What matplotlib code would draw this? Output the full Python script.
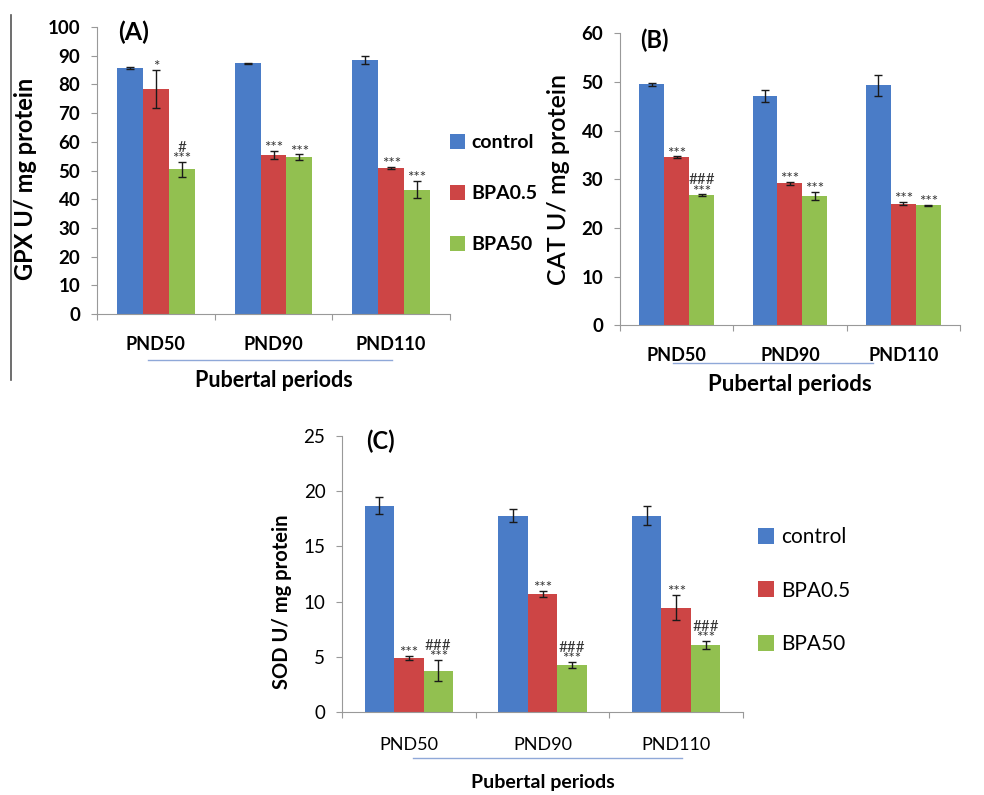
import numpy as np
import matplotlib.pyplot as plt
from matplotlib.lines import Line2D

plt.rcParams['font.family'] = ['Lato', 'DejaVu Sans']

periods = ['PND50', 'PND90', 'PND110']
groups = ['control', 'BPA0.5', 'BPA50']
colors = ['#4a7cc7', '#cd4545', '#92c050']

# GPX (A)
gpx_mean = {'control': [85.6, 87.4, 88.5], 'BPA0.5': [78.5, 55.4, 51.0], 'BPA50': [50.4, 54.6, 43.3]}
gpx_err = {'control': [0.3, 0.2, 1.4], 'BPA0.5': [6.6, 1.5, 0.3], 'BPA50': [2.5, 1.0, 3.0]}
gpx_marks = {'BPA0.5': ['*', '***', '***'], 'BPA50': ['#\n***', '***', '***']}

# CAT (B)
cat_mean = {'control': [49.5, 47.1, 49.3], 'BPA0.5': [34.5, 29.2, 25.0], 'BPA50': [26.7, 26.6, 24.7]}
cat_err = {'control': [0.3, 1.3, 2.2], 'BPA0.5': [0.2, 0.3, 0.3], 'BPA50': [0.2, 0.8, 0.1]}
cat_marks = {'BPA0.5': ['***', '***', '***'], 'BPA50': ['###\n***', '***', '***']}

# SOD (C)
sod_mean = {'control': [18.7, 17.8, 17.8], 'BPA0.5': [4.9, 10.7, 9.45], 'BPA50': [3.75, 4.25, 6.1]}
sod_err = {'control': [0.8, 0.6, 0.85], 'BPA0.5': [0.2, 0.3, 1.15], 'BPA50': [0.95, 0.3, 0.35]}
sod_marks = {'BPA0.5': ['***', '***', '***'], 'BPA50': ['###\n***', '###\n***', '###\n***']}

fig = plt.figure(figsize=(9.84, 7.95), dpi=100)


def panel(rect, means, errs, marks, ymax, ystep, ylabel, tag, tag_y, tag_size, tickweight,
		ylabel_size, ylabel_weight, ylabel_y, xpad):
	ax = fig.add_axes(rect)
	x = np.arange(len(periods)) + 0.5
	w = 0.22
	for i, g in enumerate(groups):
		xs = x + (i - 1) * w
		ax.bar(xs, means[g], w, color=colors[i], label=g, zorder=2)
		ax.errorbar(xs, means[g], yerr=errs[g], fmt='none', ecolor='#1a1a1a',
			elinewidth=1.0, capsize=3, capthick=1.0, zorder=3)
		if g in marks:
			for j, m in enumerate(marks[g]):
				top = means[g][j] + errs[g][j]
				ax.annotate(m, (xs[j], top), xytext=(0, -3), textcoords='offset points',
					ha='center', va='bottom', fontsize=11, color='#333333',
					linespacing=0.75, multialignment='center')
	ax.set_xlim(0, 3)
	ax.set_ylim(0, ymax)
	ax.set_yticks(np.arange(0, ymax + 0.1, ystep))
	ax.set_xticks([0, 1, 2, 3])
	ax.set_xticklabels([])
	ax.set_xticks(x, minor=True)
	ax.set_xticklabels(periods, minor=True, fontsize=13, fontweight=tickweight)
	ax.tick_params(axis='x', which='minor', length=0, pad=xpad)
	ax.tick_params(axis='x', which='major', length=4, color='#999999', direction='out')
	ax.tick_params(axis='y', length=4, color='#999999', labelsize=13.5, pad=8)
	for t in ax.get_yticklabels():
		t.set_fontweight(tickweight)
	for s in ['top', 'right']:
		ax.spines[s].set_visible(False)
	for s in ['left', 'bottom']:
		ax.spines[s].set_color('#999999')
	ax.set_ylabel(ylabel, fontsize=ylabel_size, fontweight=ylabel_weight, labelpad=8)
	ax.yaxis.label.set_y(ylabel_y)
	ax.text(0.18, tag_y, tag, fontsize=tag_size, fontweight='bold', va='center')
	return ax


axA = panel([0.0986, 0.605, 0.3587, 0.361], gpx_mean, gpx_err, gpx_marks, 100, 10,
	'GPX U/ mg protein', '(A)', 98, 18, 'bold', 17, 'bold', 0.47, 16)
axA.text(1.5, -23, 'Pubertal periods', ha='center', va='center', fontsize=15.5, fontweight='bold')
axA.legend(loc='center left', bbox_to_anchor=(0.95, 0.42), frameon=False, handlelength=0.8,
	handleheight=0.8, handletextpad=0.3, labelspacing=1.75, prop={'size': 14, 'weight': 'bold'})

axB = panel([0.630, 0.591, 0.3455, 0.367], cat_mean, cat_err, cat_marks, 60, 10,
	'CAT U/ mg protein', '(B)', 58.5, 17, 'bold', 18, 'semibold', 0.5, 16)
axB.text(1.5, -12.3, 'Pubertal periods', ha='center', va='center', fontsize=16, fontweight='bold')

axC = panel([0.3476, 0.1044, 0.4075, 0.347], sod_mean, sod_err, sod_marks, 25, 5,
	'SOD U/ mg protein', '(C)', 24.5, 17, 'normal', 14.5, 'bold', 0.4, 18)
axC.text(1.5, -6.4, 'Pubertal periods', ha='center', va='center', fontsize=14, fontweight='bold')
axC.legend(loc='center left', bbox_to_anchor=(0.99, 0.44), frameon=False, handlelength=0.8,
	handleheight=0.8, handletextpad=0.3, labelspacing=1.6, prop={'size': 15})

# decorative lines from the original figure
W, H = 984, 795
def hline(x0, x1, y, color='#8fa8d8', lw=1.0):
	fig.add_artist(Line2D([x0 / W, x1 / W], [1 - y / H, 1 - y / H], color=color, lw=lw))

hline(148, 392, 360)
hline(673, 873, 363)
hline(413, 682, 758)
fig.add_artist(Line2D([11 / W, 11 / W], [1 - 15 / H, 1 - 380 / H], color='#555555', lw=1.2))

fig.savefig('out.png', dpi=100)
